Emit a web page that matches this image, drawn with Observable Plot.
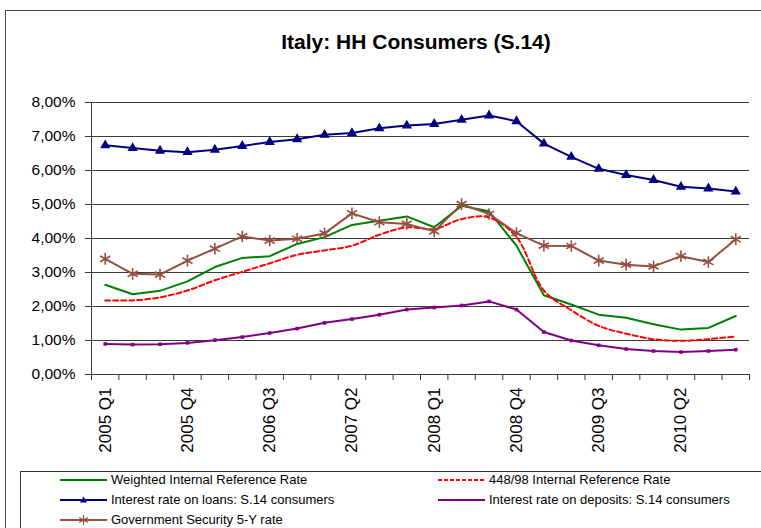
<!DOCTYPE html>
<html><head><meta charset="utf-8">
<script src="https://cdn.jsdelivr.net/npm/d3@7"></script>
<script src="https://cdn.jsdelivr.net/npm/@observablehq/plot@0.6"></script>
<style>
body{margin:0;background:#fff;font-family:"Liberation Sans",Arial,sans-serif;}
#wrap{position:relative;width:761px;height:528px;overflow:hidden;background:#fff;}
#frame{position:absolute;left:5px;top:10px;width:820px;height:600px;border:1px solid #4a4a4a;box-sizing:border-box;}
#title{position:absolute;left:0;width:832px;top:30px;text-align:center;font:bold 21px/24px "Liberation Sans",Arial,sans-serif;color:#000;}
#chart{position:absolute;left:0;top:0;}
#legend{position:absolute;left:20px;top:471px;width:800px;height:100px;border:1px solid #333;box-sizing:border-box;}
.li{position:absolute;height:14px;display:flex;align-items:center;font:13px/14px "Liberation Sans",Arial,sans-serif;color:#000;white-space:nowrap;}
.li svg{margin-right:3px;}
</style>
</head><body>
<div id="wrap">
  <div id="frame"></div>
  <div id="title">Italy: HH Consumers (S.14)</div>
  <div id="chart"></div>
  <div id="legend"></div>
  <div id="items"></div>
</div>
<script>
const quarters = ["2005 Q1","2005 Q2","2005 Q3","2005 Q4","2006 Q1","2006 Q2","2006 Q3","2006 Q4",
  "2007 Q1","2007 Q2","2007 Q3","2007 Q4","2008 Q1","2008 Q2","2008 Q3","2008 Q4",
  "2009 Q1","2009 Q2","2009 Q3","2009 Q4","2010 Q1","2010 Q2","2010 Q3","2010 Q4"];
const weighted = [2.64,2.36,2.46,2.74,3.16,3.43,3.48,3.84,4.04,4.40,4.52,4.65,4.33,4.96,4.80,3.79,2.33,2.06,1.76,1.67,1.48,1.32,1.37,1.72];
const ref448 = [2.18,2.18,2.27,2.47,2.77,3.02,3.27,3.52,3.65,3.79,4.11,4.33,4.28,4.57,4.62,4.04,2.47,1.89,1.43,1.20,1.04,0.99,1.04,1.12];
const loans = [6.74,6.66,6.58,6.54,6.61,6.72,6.84,6.92,7.05,7.10,7.24,7.32,7.37,7.49,7.62,7.45,6.79,6.40,6.05,5.87,5.72,5.52,5.47,5.38];
const deposits = [0.90,0.88,0.89,0.93,1.01,1.10,1.22,1.35,1.52,1.63,1.76,1.91,1.97,2.03,2.15,1.91,1.25,1.00,0.86,0.75,0.69,0.66,0.69,0.73];
const govt = [3.40,2.96,2.94,3.35,3.70,4.06,3.94,3.99,4.15,4.74,4.48,4.43,4.21,5.01,4.72,4.16,3.79,3.78,3.35,3.23,3.18,3.48,3.31,3.98];
const yTicks = [0,1,2,3,4,5,6,7,8];
const seriesNames = ["Weighted Internal Reference Rate","448/98 Internal Reference Rate",
  "Interest rate on loans: S.14 consumers","Interest rate on deposits: S.14 consumers","Government Security 5-Y rate"];
const colors = {green:"#008000", red:"#ff0000", navy:"#000080", purple:"#800080", brown:"#955040"};

const rows = vals => vals.map((v, i) => ({i, v}));
const idx = quarters.map((q, i) => i);

const chart = Plot.plot({
  width: 761, height: 470,
  marginLeft: 91, marginRight: 12, marginTop: 102, marginBottom: 96,
  style: {fontFamily: "Liberation Sans, Arial, sans-serif", fontSize: "15px", color: "#000", background: "transparent", overflow: "visible"},
  x: {domain: [-0.5, quarters.length - 0.5]},
  y: {domain: [0, 8]},
  marks: [
    Plot.gridY(yTicks, {stroke: "#3a3a3a", strokeOpacity: 1, strokeWidth: 1}),
    Plot.ruleX([-0.5], {stroke: "#3a3a3a"}),
    Plot.axisY(yTicks, {tickSize: 6, tickPadding: 10, stroke: "#3a3a3a", fontSize: 15.5, label: null,
      tickFormat: d => d.toFixed(2).replace(".", ",") + "%"}),
    Plot.axisX(d3.range(-0.5, quarters.length, 1), {tickSize: 6, stroke: "#3a3a3a", tickFormat: () => "", label: null}),
    Plot.axisX(idx.filter(i => i % 3 === 0), {tickSize: 0, tickPadding: 13, tickRotate: -90, fontSize: 17, label: null,
      tickFormat: i => quarters[i]}),
    Plot.lineY(rows(weighted), {x: "i", y: "v", stroke: colors.green, strokeWidth: 2}),
    Plot.lineY(rows(ref448), {x: "i", y: "v", stroke: colors.red, strokeWidth: 2, strokeDasharray: "5,3", curve: "catmull-rom"}),
    Plot.lineY(rows(deposits), {x: "i", y: "v", stroke: colors.purple, strokeWidth: 2}),
    Plot.dot(rows(deposits), {x: "i", y: "v", symbol: "square", r: 2, fill: colors.purple}),
    Plot.lineY(rows(govt), {x: "i", y: "v", stroke: colors.brown, strokeWidth: 2}),
    Plot.dot(rows(govt), {x: "i", y: "v", symbol: "asterisk", r: 5.5, stroke: colors.brown, strokeWidth: 1.6}),
    Plot.lineY(rows(loans), {x: "i", y: "v", stroke: colors.navy, strokeWidth: 2}),
    Plot.dot(rows(loans), {x: "i", y: "v", symbol: "triangle", r: 3.8, fill: colors.navy})
  ]
});
document.getElementById("chart").appendChild(chart);

// legend
const legendItems = [
  {name: seriesNames[0], color: colors.green, x: 60, y: 480, dash: null, marker: null},
  {name: seriesNames[1], color: colors.red, x: 438, y: 480, dash: "4,2", marker: null},
  {name: seriesNames[2], color: colors.navy, x: 60, y: 500, dash: null, marker: "tri"},
  {name: seriesNames[3], color: colors.purple, x: 438, y: 500, dash: null, marker: null},
  {name: seriesNames[4], color: colors.brown, x: 60, y: 520, dash: null, marker: "star"}
];
const items = document.getElementById("items");
for (const it of legendItems) {
  const d = document.createElement("div");
  d.className = "li";
  d.style.left = it.x + "px";
  d.style.top = (it.y - 7) + "px";
  let m = "";
  if (it.marker === "tri") m = `<path d="M23.5,3.5 L27,9.5 L20,9.5 Z" fill="${it.color}"/>`;
  if (it.marker === "star") m = `<path d="M23.5,2 L23.5,12 M19.2,4.5 L27.8,9.5 M19.2,9.5 L27.8,4.5" stroke="${it.color}" stroke-width="1.2"/>`;
  d.innerHTML = `<svg width="48" height="14"><line x1="0" x2="47" y1="7" y2="7" stroke="${it.color}" stroke-width="2" ${it.dash ? `stroke-dasharray="${it.dash}"` : ""}/>${m}</svg><span>${it.name}</span>`;
  items.appendChild(d);
}
</script>
</body></html>
